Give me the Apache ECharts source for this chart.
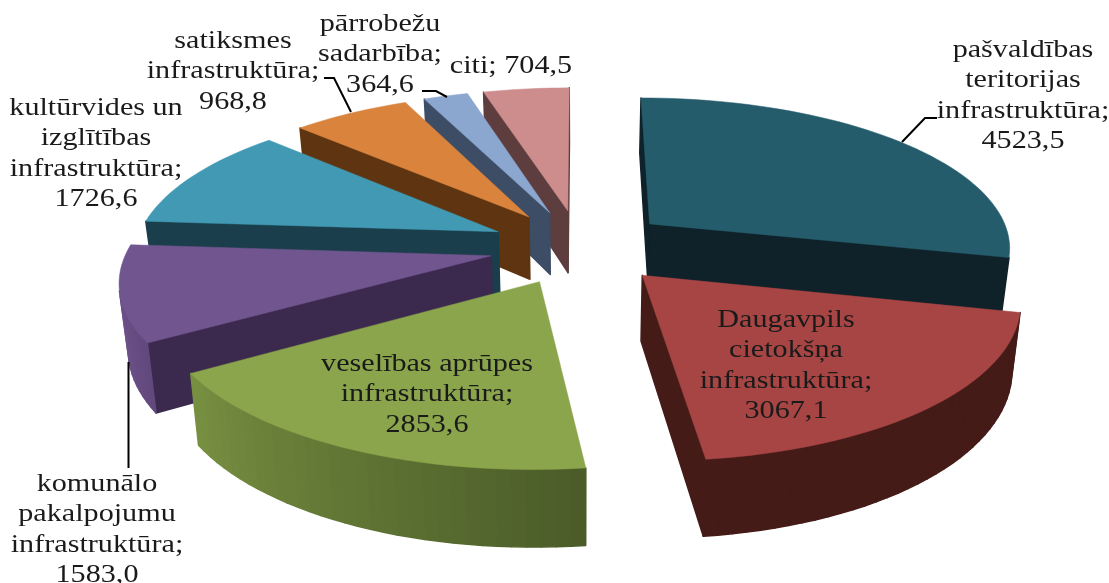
<!DOCTYPE html>
<html>
<head>
<meta charset="utf-8">
<title>Pie</title>
<style>
html, body { margin: 0; padding: 0; background: #fff; }
#pie1 { width: 1109px; height: 583px; }
</style>
<script src="https://cdn.jsdelivr.net/npm/echarts@6/dist/echarts.min.js"></script>
</head>
<body>
<div id="pie1"></div>
<script>
var names = [
    'pašvaldības\nteritorijas\ninfrastruktūra',
    'Daugavpils\ncietokšņa\ninfrastruktūra',
    'veselības aprūpes\ninfrastruktūra',
    'komunālo\npakalpojumu\ninfrastruktūra',
    'kultūrvides un\nizglītības\ninfrastruktūra',
    'satiksmes\ninfrastruktūra',
    'pārrobežu\nsadarbība',
    'citi'
];
var values = [4523.5, 3067.1, 2853.6, 1583.0, 1726.6, 968.8, 364.6, 704.5];
var topColors = ['#255c6c', '#a64543', '#8aa54b', '#71558f', '#4199b3', '#d9833c', '#8ba6cf', '#ce8d8d'];
var wallColors = ['#0f2129', '#451b18', '#4b5c29', '#3c2a4e', '#1b3e4c', '#5e3510', '#3d4d66', '#5d3d3e'];

// label layout: centre x, first line centre y
var labelPos = [[1023, 50], [786, 320], [427, 364], [97, 484], [96, 108], [233, 41], [380, 24], [511, 66]];
var leaders = [
    [[902, 142], [925, 118], [937, 118]],
    [[128.5, 362], [128.5, 468]],
    [[324, 78], [334, 78], [351, 112]],
    [[422, 91], [436, 91], [447, 97]]
];

// fake 3d camera, fitted by eye against the picture
var cx = 580, cy = 246.7, rx = 363, ry = 150, camDist = 7, explode = 0.25, depth = 64;

var total = 0;
for (var i = 0; i < values.length; i++) total += values[i];

var rad = function (a) { return a * Math.PI / 180; };

var project = function (X, Y, bottom) {
    var s = camDist / (camDist + Y);
    var shrink = bottom ? 0.98 : 1;
    return [cx + X * rx * s * shrink, cy - Y * ry * s + (bottom ? depth * s : 0)];
};

var mix = function (c1, c2, t) {
    var out = '#';
    for (var k = 1; k < 7; k += 2) {
        var a = parseInt(c1.substr(k, 2), 16), b = parseInt(c2.substr(k, 2), 16);
        var v = Math.round(a + (b - a) * t).toString(16);
        out += v.length < 2 ? '0' + v : v;
    }
    return out;
};

// angles clockwise from the top, first slice starts at 0
var slices = [];
var acc = 0;
for (var i = 0; i < values.length; i++) {
    var start = acc / total * 360;
    acc += values[i];
    slices.push({index: i, start: start, end: acc / total * 360});
}
// back slices are painted first
var order = slices.slice().sort(function (p, q) {
    return Math.cos(rad((q.start + q.end) / 2)) - Math.cos(rad((p.start + p.end) / 2));
});

var area = function (pts) {
    var sum = 0;
    for (var k = 0; k < pts.length; k++) {
        var n = pts[(k + 1) % pts.length];
        sum += pts[k][0] * n[1] - n[0] * pts[k][1];
    }
    return sum;
};

var renderSlice = function (params, api) {
    var sl = order[params.dataIndex];
    var i = sl.index;
    var mid = rad((sl.start + sl.end) / 2);
    var ox = explode * Math.sin(mid), oy = explode * Math.cos(mid);
    // outline of the slice on the ground: apex, then the rim
    var outline = [[ox, oy, null]];
    var steps = Math.ceil((sl.end - sl.start) / 2);
    for (var k = 0; k <= steps; k++) {
        var th = sl.start + (sl.end - sl.start) * k / steps;
        outline.push([ox + Math.sin(rad(th)), oy + Math.cos(rad(th)), th]);
    }
    var children = [];
    var topPts = [];
    for (var k = 0; k < outline.length; k++) {
        var p = outline[k], q = outline[(k + 1) % outline.length];
        var quad = [project(p[0], p[1]), project(q[0], q[1]), project(q[0], q[1], true), project(p[0], p[1], true)];
        topPts.push(quad[0]);
        if (area(quad) >= 0) continue;   // faces away from the camera
        var fill = wallColors[i];
        if (p[2] !== null && q[2] !== null) {
            var t = Math.max(0, Math.min(1, (p[2] - 173) / 90));
            fill = mix(wallColors[i], topColors[i], t);
        }
        // wide stroke hides the seams between the rim steps
        children.push({type: 'polygon', shape: {points: quad}, style: {fill: fill, stroke: fill, lineWidth: 1.5, lineJoin: 'round'}});
    }
    children.push({type: 'polygon', shape: {points: topPts}, style: {fill: topColors[i], stroke: topColors[i], lineWidth: 0.5}});
    return {type: 'group', children: children};
};

var labelText = function (i) {
    var v = values[i].toFixed(1).replace('.', ',');
    return names[i] + (names[i] == 'citi' ? '; ' : ';\n') + v;
};

var renderLabels = function (params, api) {
    var i = params.dataIndex;
    return {
        type: 'text',
        x: labelPos[i][0],
        y: labelPos[i][1] - 15,
        scaleX: 1.16,
        style: {
            text: labelText(i),
            x: 0,
            y: 0,
            align: 'center',
            verticalAlign: 'top',
            fill: '#1a1a1a',
            fontFamily: '"Liberation Serif"',
            fontSize: 26,
            lineHeight: 30.4
        }
    };
};

var renderLeader = function (params, api) {
    return {
        type: 'polyline',
        shape: {points: leaders[params.dataIndex]},
        style: {fill: 'none', stroke: '#000', lineWidth: 2}
    };
};

var pie1 = echarts.init(document.getElementById('pie1'));
var pie1Opt = {
    animation: false,
    backgroundColor: '#fff',
    series: [
        {type: 'custom', coordinateSystem: 'none', silent: true, z: 1, renderItem: renderSlice, data: order.map(function (s) { return values[s.index]; })},
        {type: 'custom', coordinateSystem: 'none', silent: true, z: 2, renderItem: renderLeader, data: leaders.map(function (l, n) { return n; })},
        {type: 'custom', coordinateSystem: 'none', silent: true, z: 3, renderItem: renderLabels, data: values}
    ]
};
pie1.setOption(pie1Opt);
</script>
</body>
</html>
